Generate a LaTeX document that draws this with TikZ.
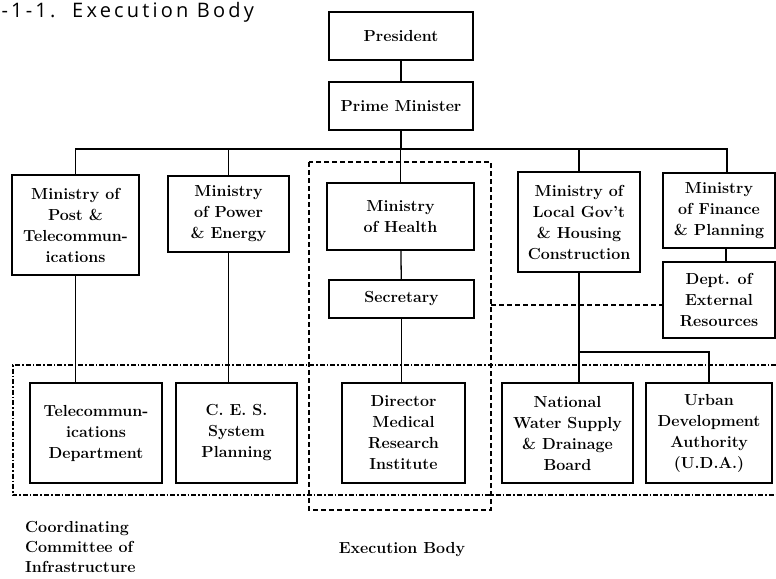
\documentclass[tikz,border=0pt]{standalone}
\usepackage{fontspec}
\newfontfamily\titlefont[LetterSpace=16]{Open Sans}
\begin{document}
\begin{tikzpicture}[x=1pt, y=-1pt,
        box/.style={draw, line width=1.3pt, align=center, inner sep=2pt, font=\fontsize{16}{21}\selectfont\bfseries},
        link/.style={line width=1.3pt},
        execline/.style={line width=1.2pt, dash pattern=on 5pt off 3pt},
        cocline/.style={line width=1.1pt, dash pattern=on 5pt off 2pt on 1.5pt off 2pt},
        note/.style={inner sep=0pt, align=left, font=\fontsize{16}{20}\selectfont\bfseries}]
    \useasboundingbox (0, 0) rectangle (776, 578);
    \node[anchor=base west, font=\titlefont\fontsize{20}{22}\selectfont] (title) at (-2, 18) {-1-1.\ \ Execution Body};
    \node[box, minimum width=144, minimum height=48] (pres) at (401, 36) {President};
    \node[box, minimum width=144, minimum height=48] (pm) at (401, 106) {Prime Minister};
    \node[box, minimum width=127, minimum height=100] (post) at (75.5, 225) {Ministry of\\Post \&\\Telecommun-\\ications};
    \node[box, minimum width=121, minimum height=76] (power) at (228.5, 214) {Ministry\\of Power\\\& Energy};
    \node[box, minimum width=147, minimum height=67] (health) at (400.5, 216.5) {Ministry\\of Health};
    \node[box, minimum width=145, minimum height=38] (sec) at (401.5, 299) {Secretary};
    \node[box, minimum width=122, minimum height=100] (local) at (579, 222) {Ministry of\\Local Gov't\\\& Housing\\Construction};
    \node[box, minimum width=112, minimum height=75] (fin) at (719, 210.5) {Ministry\\of Finance\\\& Planning};
    \node[box, minimum width=112, minimum height=76] (dept) at (719, 300) {Dept. of\\External\\Resources};
    \node[box, minimum width=132, minimum height=100] (telecom) at (96, 433) {Telecommun-\\ications\\Department};
    \node[box, minimum width=121, minimum height=100] (ces) at (236.5, 433) {C. E. S.\\System\\Planning};
    \node[box, minimum width=123, minimum height=100] (dmri) at (403.5, 433) {Director\\Medical\\Research\\Institute};
    \node[box, minimum width=131, minimum height=100] (water) at (567.5, 433) {National\\Water Supply\\\& Drainage\\Board};
    \node[box, minimum width=126, minimum height=100] (uda) at (709, 433) {Urban\\Development\\Authority\\(U.D.A.)};
    \node[note, anchor=north west] (coc) at (25, 521) {Coordinating\\Committee of\\Infrastructure};
    \node[note, anchor=base] (exe) at (402, 553) {Execution Body};
    \coordinate (bus) at (401, 149);
    \coordinate (uda split) at (0, 352);
    \coordinate (exe right) at (491, 305);
    \draw[execline] (309, 162) rectangle (491, 510);
    \draw[cocline] (776, 365) -- (13, 365) -- (13, 495) -- (776, 495);
    \draw[link] (pres) -- (pm);
    \draw[link] (pm) -- (bus);
    \draw[link] (post.north) |- (bus) -| ([xshift=8]fin.north);
    \draw[link] (power.north) -- (power.north |- bus);
    \draw[link] (health.north) -- (health.north |- bus);
    \draw[link] (local.north) -- (local.north |- bus);
    \draw[link] (post.south) -- (post.south |- telecom.north);
    \draw[link] (power.south) -- (power.south |- ces.north);
    \draw[link] (health) -- (sec);
    \draw[link] (sec.south) -- (sec.south |- dmri.north);
    \draw[link] (local.south) -- (local.south |- water.north);
    \draw[link] (uda split -| local.south) -| (uda.north);
    \draw[link] ([xshift=7]fin.south) -- ([xshift=7]dept.north);
    \draw[execline] (exe right) -- (exe right -| dept.west);
\end{tikzpicture}
\end{document}
